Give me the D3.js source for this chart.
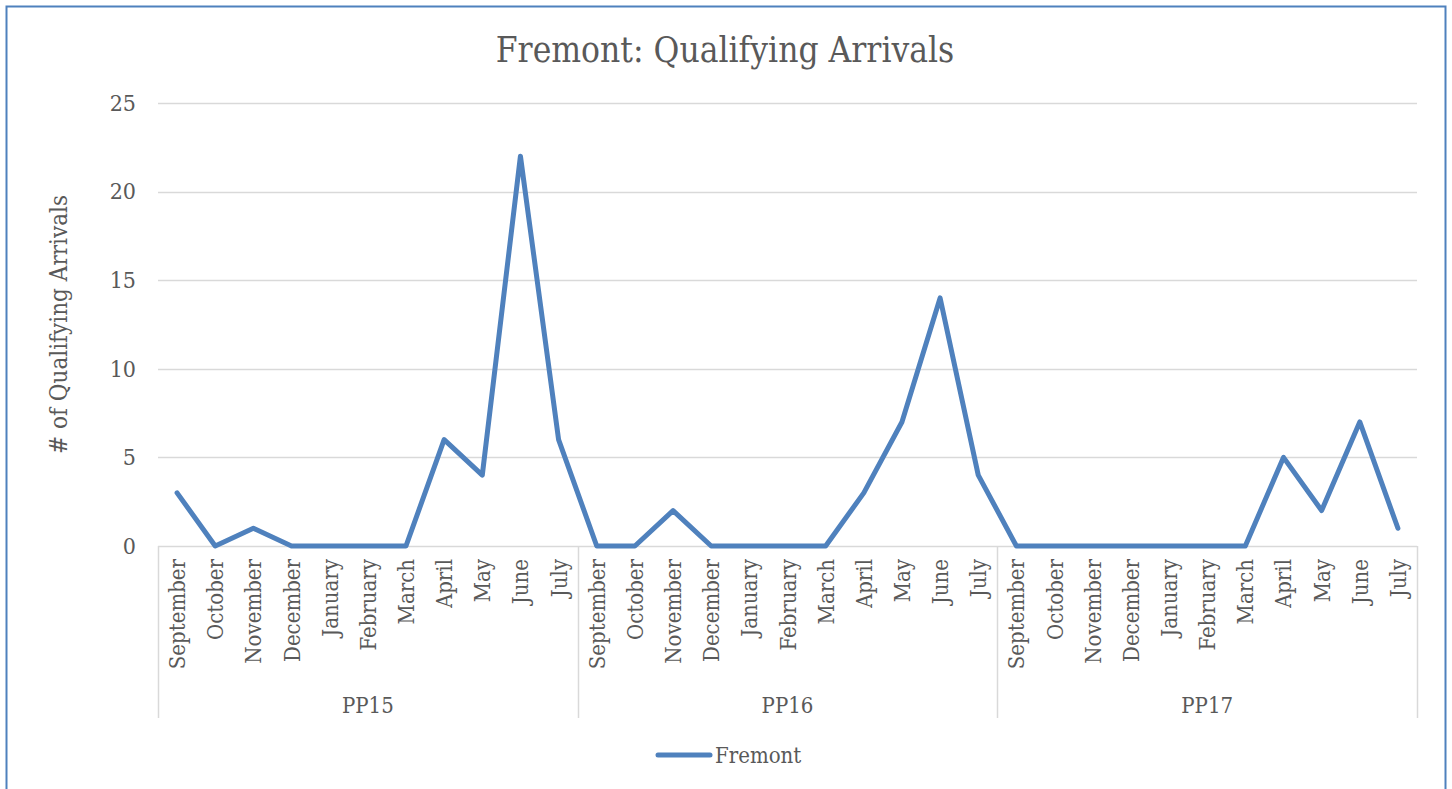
<!DOCTYPE html>
<html>
<head>
<meta charset="utf-8">
<script src="https://cdn.jsdelivr.net/npm/d3@7"></script>
<style>
  body { margin: 0; background: #fff; }
  text { font-family: "DejaVu Serif Condensed", "DejaVu Serif", serif; fill: #595959; }
</style>
</head>
<body>
<div id="chart"></div>
<script>
var groups = ['PP15', 'PP16', 'PP17'];
var months = ['September', 'October', 'November', 'December', 'January', 'February',
              'March', 'April', 'May', 'June', 'July'];
var pp15 = [3, 0, 1, 0, 0, 0, 0, 6, 4, 22, 6];
var pp16 = [0, 0, 2, 0, 0, 0, 0, 3, 7, 14, 4];
var pp17 = [0, 0, 0, 0, 0, 0, 0, 5, 2, 7, 1];
var yTicks = [0, 5, 10, 15, 20, 25];
var seriesName = 'Fremont';

var width = 1452,
    height = 789,
    margin = {left: 158, right: 35, top: 103, bottom: 243};

var chartWidth = width - margin.left - margin.right;
var chartHeight = height - margin.top - margin.bottom;

// one row per point, keyed by group + month
var data = [];
[pp15, pp16, pp17].forEach(function(vals, g) {
    vals.forEach(function(v, i) {
        data.push({key: groups[g] + '-' + months[i], group: groups[g], month: months[i], value: v});
    });
});

var svg = d3.select('#chart').append('svg')
    .attr('width', width)
    .attr('height', height);

// outer border
svg.append('rect')
    .attr('x', 6.5).attr('y', 6.5)
    .attr('width', 1439).attr('height', 800)
    .attr('fill', 'none')
    .attr('stroke', '#4f81bd')
    .attr('stroke-width', 2);

var xScale = d3.scaleBand().domain(data.map(function(d) { return d.key; })).range([0, chartWidth]);
var groupScale = d3.scaleBand().domain(groups).range([0, chartWidth]);
var yScale = d3.scaleLinear().domain([0, 25]).range([chartHeight, 0]);

var g = svg.append('g')
    .attr('transform', 'translate(' + margin.left + ',' + margin.top + ')');

// gridlines
g.append('g').attr('class', 'grid')
    .selectAll('line').data(yTicks.slice(1)).enter().append('line')
    .attr('x1', 0).attr('x2', chartWidth)
    .attr('y1', function(d) { return Math.round(yScale(d)) + 0.5; })
    .attr('y2', function(d) { return Math.round(yScale(d)) + 0.5; })
    .attr('stroke', '#d9d9d9')
    .attr('stroke-width', 1.5);

// y axis labels
var yAxis = d3.axisLeft(yScale).tickValues(yTicks).tickSize(0).tickPadding(22);
g.append('g').attr('class', 'axis y').call(yAxis)
    .call(function(s) { s.select('.domain').remove(); })
    .selectAll('text')
    .style('font-size', '23px')
    .attr('fill', '#595959');

// category axis line and group separators
g.append('line')
    .attr('x1', 0).attr('x2', chartWidth)
    .attr('y1', chartHeight + 0.5).attr('y2', chartHeight + 0.5)
    .attr('stroke', '#d9d9d9').attr('stroke-width', 1.5);

var seps = groups.map(function(d) { return groupScale(d); }).concat([chartWidth]);
g.append('g').selectAll('line').data(seps).enter().append('line')
    .attr('x1', function(d) { return Math.round(d) + 0.5; })
    .attr('x2', function(d) { return Math.round(d) + 0.5; })
    .attr('y1', chartHeight)
    .attr('y2', chartHeight + 172)
    .attr('stroke', '#d9d9d9').attr('stroke-width', 1.5);

// month labels (rotated)
g.append('g').selectAll('text').data(data).enter().append('text')
    .attr('transform', function(d) {
        return 'translate(' + (xScale(d.key) + xScale.bandwidth() / 2 + 8) + ',' + (chartHeight + 13) + ') rotate(-90)';
    })
    .attr('text-anchor', 'end')
    .style('font-size', '22px')
    .text(function(d) { return d.month; });

// group labels
g.append('g').selectAll('text').data(groups).enter().append('text')
    .attr('x', function(d) { return groupScale(d) + groupScale.bandwidth() / 2; })
    .attr('y', chartHeight + 167)
    .attr('text-anchor', 'middle')
    .style('font-size', '22px')
    .text(function(d) { return d; });

// series line
var line = d3.line()
    .x(function(d) { return xScale(d.key) + xScale.bandwidth() / 2; })
    .y(function(d) { return yScale(d.value); });

g.append('path')
    .datum(data)
    .attr('d', line)
    .attr('fill', 'none')
    .attr('stroke', '#4f81bd')
    .attr('stroke-width', 5)
    .attr('stroke-linejoin', 'round')
    .attr('stroke-linecap', 'round');

// title
svg.append('text')
    .attr('x', 725).attr('y', 62)
    .attr('text-anchor', 'middle')
    .style('font-size', '35px')
    .text('Fremont: Qualifying Arrivals');

// y axis title
svg.append('text')
    .attr('transform', 'translate(67,' + (margin.top + chartHeight / 2) + ') rotate(-90)')
    .attr('text-anchor', 'middle')
    .style('font-size', '24px')
    .text('# of Qualifying Arrivals');

// legend
var legend = svg.append('g').attr('transform', 'translate(658,755)');
legend.append('line')
    .attr('x1', 0).attr('x2', 52)
    .attr('stroke', '#4f81bd').attr('stroke-width', 5).attr('stroke-linecap', 'round');
legend.append('text')
    .attr('x', 57).attr('y', 8)
    .style('font-size', '22px')
    .text(seriesName);
</script>
</body>
</html>
